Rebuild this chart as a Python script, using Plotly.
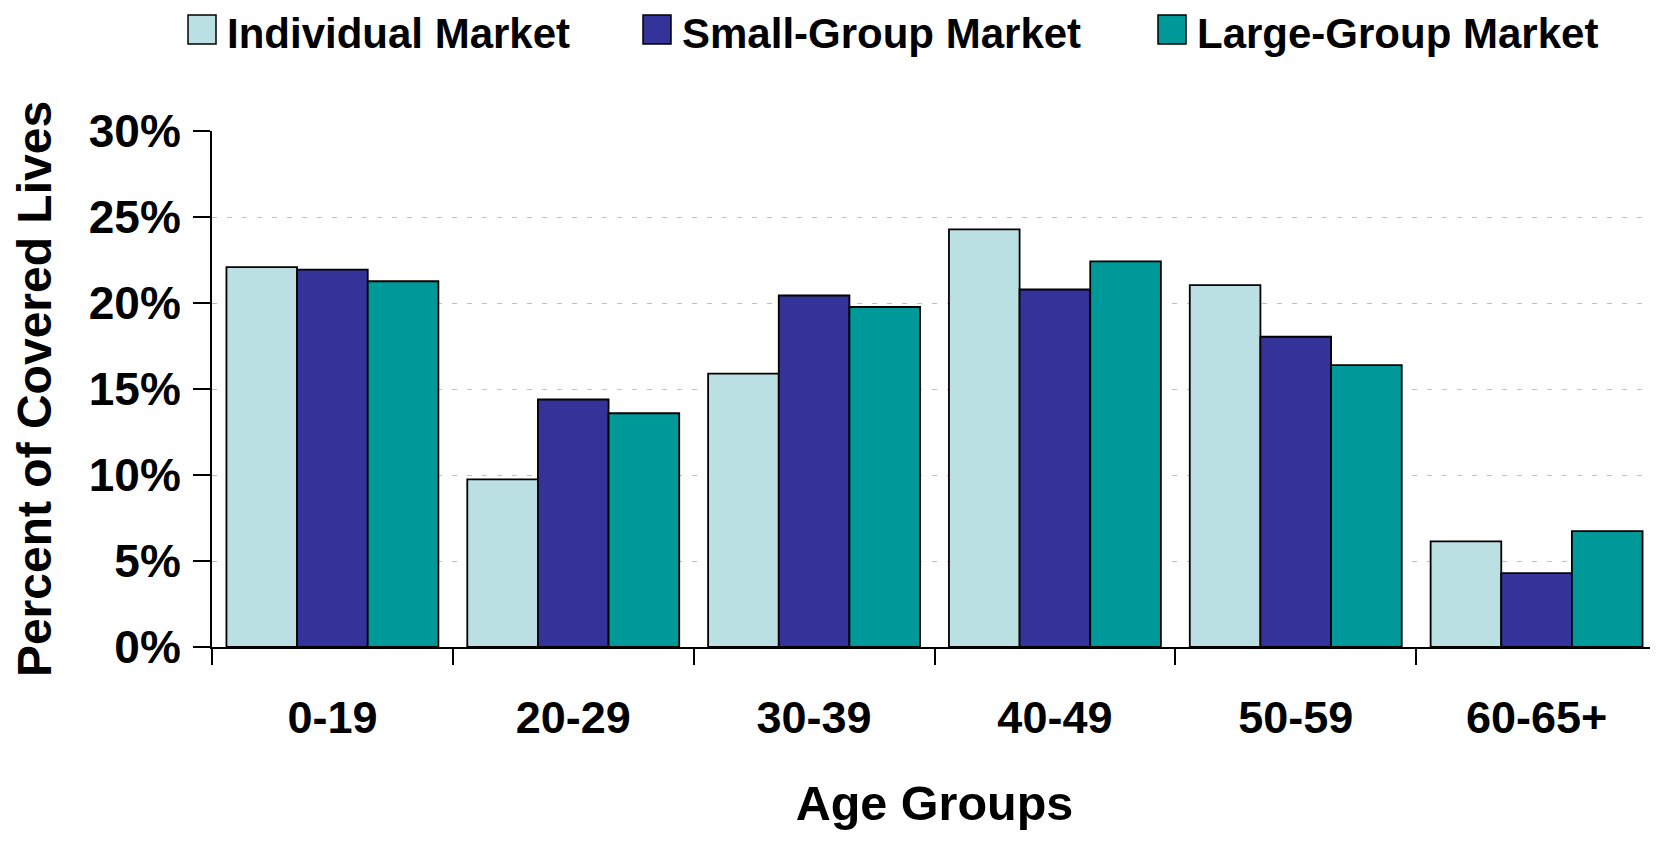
import plotly.graph_objects as go

age_groups = ["0-19", "20-29", "30-39", "40-49", "50-59", "60-65+"]
individual = [22.1, 9.75, 15.9, 24.3, 21.05, 6.15]
small_group = [21.95, 14.4, 20.45, 20.8, 18.05, 4.3]
large_group = [21.28, 13.6, 19.78, 22.44, 16.4, 6.74]

series_names = ["Individual Market", "Small-Group Market", "Large-Group Market"]
series_colors = ["#BBE0E3", "#333399", "#009999"]
series_values = [individual, small_group, large_group]

FONT = "Liberation Sans, Arial, sans-serif"

# page has an 8px body margin, so the figure is sized/offset to compensate
OFF = 8
W, H = 1650, 834
ML, MR, MT, MB = 204, 1, 123, 195

fig = go.Figure()
for name, color, vals in zip(series_names, series_colors, series_values):
    fig.add_trace(go.Bar(
        x=age_groups, y=vals, name=name,
        marker=dict(color=color, line=dict(color="#000000", width=1.8)),
        showlegend=False,
    ))

# custom legend (large square swatches like the original)
plot_w = W - ML - MR
plot_h = H - MT - MB
def px_x(px):
    return (px - OFF - ML) / plot_w
def px_y(py):
    return (H - MB - (py - OFF)) / plot_h

legend_x = [188, 643, 1158]
shapes = []
annotations = []
for lx, name, color in zip(legend_x, series_names, series_colors):
    shapes.append(dict(type="rect", xref="paper", yref="paper",
                       x0=px_x(lx), x1=px_x(lx + 28), y0=px_y(44), y1=px_y(15),
                       fillcolor=color, line=dict(color="#000000", width=1.5)))
    annotations.append(dict(xref="paper", yref="paper", x=px_x(lx + 37), y=px_y(33),
                            xanchor="left", yanchor="middle", showarrow=False,
                            text=name,
                            font=dict(family=FONT, size=42, color="#000000", weight="bold")))

fig.update_layout(
    width=W, height=H,
    margin=dict(l=ML, r=MR, t=MT, b=MB),
    paper_bgcolor="white", plot_bgcolor="white",
    barmode="group", bargap=0.12, bargroupgap=0,
    shapes=shapes, annotations=annotations,
    font=dict(family=FONT, color="#000000"),
)

fig.update_xaxes(
    type="category",
    showline=True, linecolor="#000000", linewidth=2,
    ticks="outside", tickson="boundaries", ticklen=16, tickwidth=2, tickcolor="#000000",
    tickfont=dict(family=FONT, size=45, color="#000000", weight="bold"),
    ticklabelstandoff=30,
    showgrid=False,
    title=dict(text="Age Groups", standoff=44,
               font=dict(family=FONT, size=48.5, color="#000000", weight="bold")),
)

fig.update_yaxes(
    range=[0, 30.02], dtick=5, tick0=0, ticksuffix="%",
    showline=True, linecolor="#000000", linewidth=2,
    ticks="outside", ticklen=17, tickwidth=2, tickcolor="#000000",
    tickfont=dict(family=FONT, size=46, color="#000000", weight="bold"),
    ticklabelstandoff=3,
    showgrid=True, gridcolor="#C0C0C0", gridwidth=1, griddash="5px,10px",
    zeroline=False,
    title=dict(text="Percent of Covered Lives", standoff=26,
               font=dict(family=FONT, size=48, color="#000000", weight="bold")),
)

fig.write_html("out.html")
